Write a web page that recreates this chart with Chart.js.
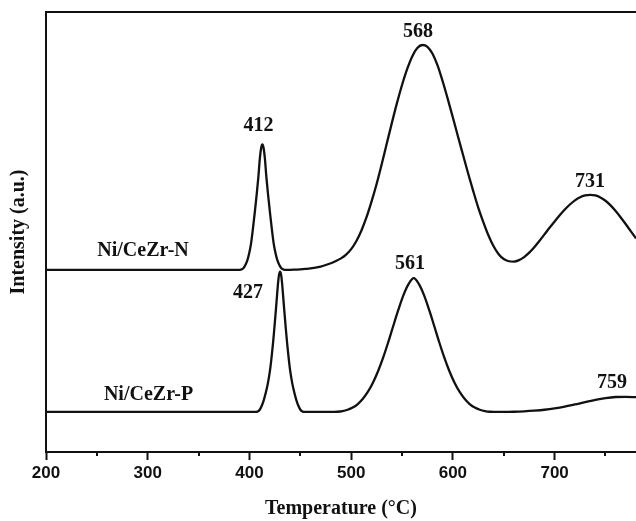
<!DOCTYPE html>
<html>
<head>
<meta charset="utf-8">
<title>TPR profiles</title>
<script src="https://cdn.jsdelivr.net/npm/chart.js@4.4.1/dist/chart.umd.min.js"></script>
<style>
    html, body { margin: 0; padding: 0; background: #fff; }
    #wrap { width: 636px; height: 521px; }
</style>
</head>
<body>
<div id="wrap"><canvas id="tpr-chart" width="636" height="521"></canvas></div>
<script>
// Ni/CeZr-N profile (temperature in °C, intensity in a.u.)
const tempN = [200, 300, 385,
    388.7, 391.7, 394, 396, 398, 399.8, 401.6, 403.6, 405.5, 407.2, 408.8, 410.3, 411.5, 412.7,
    413.9, 415.1, 416.6, 418.2, 419.9, 421.8, 423.8, 425.6, 427.4, 429.4, 431.4, 433.7, 436.7,
    440, 445, 450, 455, 460, 465, 470, 475, 480, 485, 490, 495, 500, 505, 510, 515, 520, 525, 530,
    535, 540, 545, 550, 555, 560, 565, 570, 575, 580, 585, 590, 595, 600, 605, 610, 615, 620, 625, 630,
    635, 640, 645, 650, 655, 660, 665, 670, 675, 680, 685, 690, 695, 700, 705, 710, 715, 720, 725, 730,
    735, 740, 745, 750, 755, 760, 765, 770, 775, 780];
const intN = [41.4, 41.4, 41.4,
    41.4, 41.45, 41.75, 42.5, 43.6, 45.2, 47.4, 51.1, 55, 58.7, 62.6, 66.9, 69.1, 69.9,
    69.1, 66.9, 62.6, 58.7, 55, 51.1, 47.4, 45.2, 43.6, 42.5, 41.75, 41.45, 41.4,
    41.4, 41.45, 41.5, 41.6, 41.75, 41.9, 42.15, 42.5, 42.9, 43.4, 44.0, 44.85, 46.1, 47.9, 50.3, 53.3, 56.9, 60.9, 65.4,
    70.1, 74.8, 79.3, 83.4, 87.0, 89.9, 91.8, 92.5, 92.1, 90.5, 87.8, 84.2, 80.2, 76.0, 71.7, 67.5, 63.3, 59.3, 55.5, 52.2,
    49.2, 46.75, 44.95, 43.85, 43.35, 43.25, 43.6, 44.3, 45.3, 46.55, 47.95, 49.45, 50.95, 52.4, 53.8, 55.1, 56.25, 57.2, 57.9, 58.3,
    58.45, 58.3, 57.85, 57.1, 56.05, 54.75, 53.3, 51.75, 50.15, 48.55];

// Ni/CeZr-P profile
const tempP = [200, 300, 400,
    406.1, 408.1, 410.1, 412.1, 414.1, 416.1, 418.1, 420.1, 421.1, 422.1, 423.1, 424.1, 425.1, 426.1, 427.1, 428.1, 429.1, 430.1,
    431.1, 432.1, 433.1, 434.1, 435.1, 436.1, 437.1, 438.1, 439.1, 440.1, 442.1, 444.1, 446.1, 448.1, 450.1, 452.1, 454.1,
    460, 480, 486.5, 491.5, 496.5, 501.5, 506.5, 511.5, 516.5, 521.5, 526.5, 531.5, 536.5, 541.5, 546.5, 551.5, 556.5, 561.5,
    566.5, 571.5, 576.5, 581.5, 586.5, 591.5, 596.5, 601.5, 606.5, 611.5, 616.5, 621.5, 626.5, 631.5, 636.5,
    645, 650, 660, 670, 680, 690, 700, 710, 720, 730, 740, 750, 760, 770, 780];
const intP = [9.1, 9.1, 9.1,
    9.1, 9.2, 9.6, 10.5, 11.8, 13.5, 15.6, 18.4, 20.2, 22.3, 24.6, 27.1, 29.8, 32.6, 35.5, 38.3, 40.3, 41.0,
    40.3, 38.3, 35.5, 32.6, 29.8, 27.1, 24.6, 22.3, 20.2, 18.4, 15.6, 13.5, 11.8, 10.5, 9.6, 9.2, 9.1,
    9.1, 9.1, 9.15, 9.3, 9.6, 10.1, 10.9, 12.1, 13.7, 15.8, 18.4, 21.5, 25.0, 28.75, 32.4, 35.7, 38.2, 39.5,
    38.2, 35.7, 32.4, 28.75, 25.0, 21.5, 18.4, 15.8, 13.7, 12.1, 10.9, 10.1, 9.6, 9.3, 9.15,
    9.1, 9.1, 9.15, 9.25, 9.4, 9.6, 9.9, 10.3, 10.8, 11.35, 11.85, 12.25, 12.5, 12.55, 12.45];

// x axis ticks
const majorTicks = [200, 300, 400, 500, 600, 700];
const minorTicks = [250, 350, 450, 550, 650, 750];

// text written inside the plot, placed in data units
const notes = [
    { text: 'Ni/CeZr-N', x: 295.4, y: 45.7 },
    { text: 'Ni/CeZr-P', x: 300.8, y: 13.0 },
    { text: '412', x: 409, y: 74.1 },
    { text: '568', x: 565.8, y: 95.5 },
    { text: '731', x: 734.9, y: 61.4 },
    { text: '427', x: 398.6, y: 36.1 },
    { text: '561', x: 557.9, y: 42.7 },
    { text: '759', x: 756.5, y: 15.7 }
];

const serif = "'Liberation Serif', 'Times New Roman', serif";
const ink = '#111';

function toPoints(xs, ys) {
    return xs.map((x, i) => ({ x: x, y: ys[i] }));
}

// top frame line, minor ticks and the peak labels
const extrasPlugin = {
    id: 'extras',
    afterDraw(chart) {
        const ctx = chart.ctx;
        const area = chart.chartArea;
        const xScale = chart.scales.x;
        const yScale = chart.scales.y;

        ctx.save();
        ctx.strokeStyle = ink;
        ctx.lineWidth = 2;
        ctx.beginPath();
        ctx.moveTo(area.left - 1, area.top);
        ctx.lineTo(area.right, area.top);
        ctx.stroke();

        minorTicks.forEach(v => {
            const px = Math.round(xScale.getPixelForValue(v));
            ctx.beginPath();
            ctx.moveTo(px, area.bottom);
            ctx.lineTo(px, area.bottom + 4);
            ctx.stroke();
        });

        ctx.fillStyle = ink;
        ctx.font = 'bold 20px ' + serif;
        ctx.textAlign = 'center';
        ctx.textBaseline = 'middle';
        notes.forEach(n => {
            ctx.fillText(n.text, xScale.getPixelForValue(n.x), yScale.getPixelForValue(n.y));
        });
        ctx.restore();
    }
};

document.addEventListener('DOMContentLoaded', function () {
    const ctx = document.getElementById('tpr-chart').getContext('2d');

    const lineStyle = {
        borderColor: ink,
        borderWidth: 2.3,
        pointRadius: 0,
        fill: false,
        cubicInterpolationMode: 'monotone'
    };

    new Chart(ctx, {
        type: 'line',
        data: {
            datasets: [
                Object.assign({ label: 'Ni/CeZr-N', data: toPoints(tempN, intN) }, lineStyle),
                Object.assign({ label: 'Ni/CeZr-P', data: toPoints(tempP, intP) }, lineStyle)
            ]
        },
        options: {
            responsive: false,
            animation: false,
            layout: { padding: { top: 12, right: 0, left: 0, bottom: 0 } },
            plugins: {
                legend: { display: false },
                tooltip: { enabled: false }
            },
            scales: {
                x: {
                    type: 'linear',
                    min: 200,
                    max: 780,
                    afterBuildTicks: scale => {
                        scale.ticks = majorTicks.map(v => ({ value: v }));
                    },
                    afterFit: scale => { scale.height = 69; },
                    grid: {
                        drawOnChartArea: false,
                        drawTicks: true,
                        tickLength: 8,
                        tickWidth: 2,
                        tickColor: ink
                    },
                    border: { display: true, color: ink, width: 2 },
                    ticks: {
                        color: ink,
                        padding: 3,
                        maxRotation: 0,
                        font: { family: "'Liberation Sans', Arial, sans-serif", weight: 'bold', size: 17 }
                    },
                    title: {
                        display: true,
                        text: 'Temperature (°C)',
                        color: ink,
                        padding: { top: 0, bottom: 0 },
                        font: { family: serif, weight: 'bold', size: 20 }
                    }
                },
                y: {
                    type: 'linear',
                    min: 0,
                    max: 100,
                    afterFit: scale => { scale.width = 46; },
                    grid: { display: false },
                    border: { display: true, color: ink, width: 2 },
                    ticks: { display: false },
                    title: {
                        display: true,
                        text: 'Intensity (a.u.)',
                        color: ink,
                        padding: { top: 7, bottom: 0 },
                        font: { family: serif, weight: 'bold', size: 20 }
                    }
                }
            }
        },
        plugins: [extrasPlugin]
    });
});
</script>
</body>
</html>
